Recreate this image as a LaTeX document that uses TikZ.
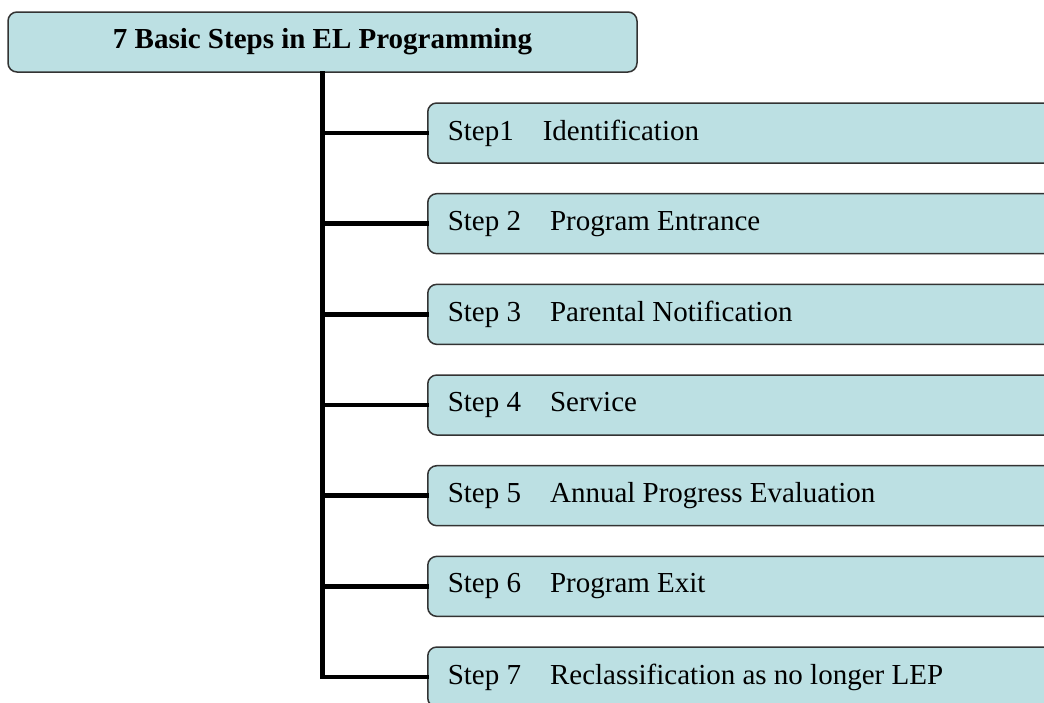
\documentclass[tikz,border=0pt]{standalone}
\usepackage{fontspec}
\setmainfont{Liberation Serif}
\usetikzlibrary{positioning}
\definecolor{boxfill}{RGB}{188,224,227}
\tikzset{
        x=1pt, y=-1pt, % pixel-like units, y going down
        node distance=29.17pt, % gap between two step boxes
        titlebox/.style={draw=black!80, fill=boxfill, rounded corners=9pt, line width=1.5pt, minimum width=629pt, minimum height=60pt, font=\fontsize{29}{33}\selectfont\bfseries},
        stepbox/.style={draw=black!80, fill=boxfill, rounded corners=9pt, line width=1.5pt, minimum height=60pt, inner xsep=20pt, font=\fontsize{29}{33}\selectfont},
        branch/.style={line width=4.5pt, line cap=rect},
    }
\newcommand{\steptext}[2]{\makebox[640pt][l]{#1\hspace{29pt}#2}}
\begin{document}
\begin{tikzpicture}
    \clip (0,0) rectangle (1044,702);
    \node[titlebox] (title) at (322.5,42) {7 Basic Steps in EL Programming};
    \node[stepbox, anchor=west] (s1) at (427,133) {\steptext{Step1}{Identification}};
    \node[stepbox, below=of s1] (s2) {\steptext{Step 2}{Program Entrance}};
    \node[stepbox, below=of s2] (s3) {\steptext{Step 3}{Parental Notification}};
    \node[stepbox, below=of s3] (s4) {\steptext{Step 4}{Service}};
    \node[stepbox, below=of s4] (s5) {\steptext{Step 5}{Annual Progress Evaluation}};
    \node[stepbox, below=of s5] (s6) {\steptext{Step 6}{Program Exit}};
    \node[stepbox, below=of s6] (s7) {\steptext{Step 7}{Reclassification as no longer LEP}};
    % tree lines
    \draw[branch] (title.south) -- (title.south |- s7.west) -- (s7.west);
    \foreach \s in {s1,s2,s3,s4,s5,s6}
      \draw[branch] (title.south |- \s.west) -- (\s.west);
\end{tikzpicture}
\end{document}
